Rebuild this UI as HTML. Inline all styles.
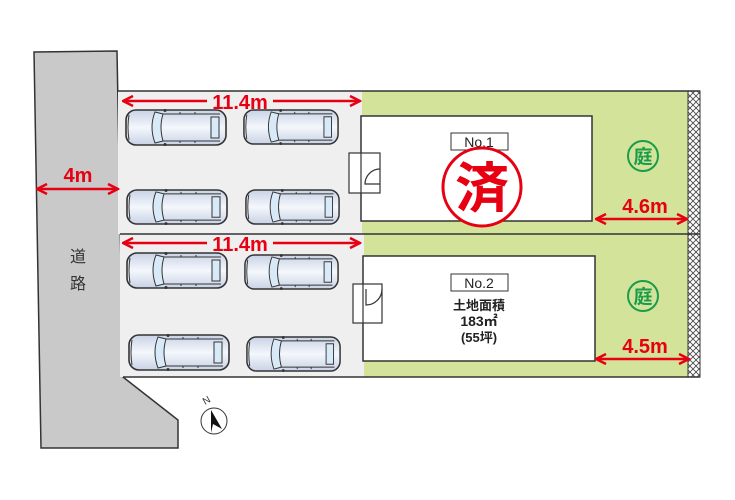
<!DOCTYPE html>
<html><head><meta charset="utf-8"><style>
html,body{margin:0;padding:0;background:#fff;width:735px;height:500px;overflow:hidden}
text{font-family:"Liberation Sans","Noto Sans CJK JP",sans-serif}
</style></head><body>
<svg width="735" height="500" viewBox="0 0 735 500" xmlns="http://www.w3.org/2000/svg">
<defs>
<linearGradient id="cg" x1="0" y1="0" x2="0" y2="1"><stop offset="0" stop-color="#c9d3e6"/><stop offset="0.5" stop-color="#f4f7fc"/><stop offset="1" stop-color="#c9d3e6"/></linearGradient>
<pattern id="hx" width="6" height="6" patternUnits="userSpaceOnUse"><rect width="6" height="6" fill="#fff"/><path d="M0 0L6 6M6 0L0 6" stroke="#444" stroke-width="0.8"/></pattern>
<symbol id="car" viewBox="0 0 102 37" preserveAspectRatio="none">
<rect x="1" y="1" width="100" height="35" rx="10" fill="url(#cg)" stroke="#333" stroke-width="1.6"/>
<path d="M4 6 Q2 18 4 31" fill="none" stroke="#333"/>
<path d="M30 3 Q24 18 30 34 L38 32 Q34 18 38 5 Z" fill="#d8eaf8" stroke="#333"/>
<rect x="86" y="8" width="8" height="21" fill="#d8eaf8" stroke="#333"/>
<path d="M38 5 H95 M38 32 H95" stroke="#333" fill="none"/>
<path d="M55 3v2M70 3v2M55 32v2M70 32v2" stroke="#333"/>
<circle cx="40" cy="1.5" r="1.5" fill="#333"/><circle cx="40" cy="35.5" r="1.5" fill="#333"/>
</symbol>
<marker id="ah" viewBox="0 0 10 10" refX="9" refY="5" markerWidth="5" markerHeight="5" orient="auto-start-reverse"><path d="M1 1 L9 5 L1 9" fill="none" stroke="#e60012" stroke-width="2"/></marker>
</defs>
<polygon points="34,52 117,51 123,377 178,420 178,448 41,448" fill="#c9c9c9" stroke="#333" stroke-width="1.5"/>
<rect x="118" y="91" width="244" height="143" fill="#efefef"/>
<rect x="120" y="234" width="244" height="143" fill="#efefef"/>
<rect x="362" y="91" width="326" height="143" fill="#d3e39a"/>
<rect x="364" y="234" width="324" height="143" fill="#d3e39a"/>
<rect x="688" y="91" width="12" height="286" fill="url(#hx)" stroke="#333"/>
<path d="M118 91 H700 M120 234 H700 M123 377 H700" stroke="#333" stroke-width="1.5"/>
<rect x="361" y="116" width="231" height="105" fill="#fff" stroke="#333" stroke-width="1.5"/>
<rect x="363" y="256" width="232" height="105" fill="#fff" stroke="#333" stroke-width="1.5"/>
<rect x="349" y="153" width="31" height="40" fill="#fff" stroke="#333" stroke-width="1.2"/>
<path d="M361 153 V193 M380 184 H365 A15 15 0 0 1 380 169" fill="none" stroke="#333" stroke-width="1.2"/>
<rect x="353" y="284" width="29" height="39" fill="#fff" stroke="#333" stroke-width="1.2"/>
<path d="M363 284 V323 M366 289 V305 A16 16 0 0 0 382 289" fill="none" stroke="#333" stroke-width="1.2"/>
<rect x="451" y="133" width="57" height="17" fill="#fff" stroke="#333"/>
<text x="479" y="147" font-size="14" text-anchor="middle" fill="#222">No.1</text>
<rect x="451" y="274" width="57" height="17" fill="#fff" stroke="#333"/>
<text x="479" y="288" font-size="14" text-anchor="middle" fill="#222">No.2</text>
<text x="479" y="310" font-size="13" font-weight="bold" text-anchor="middle" fill="#222">土地面積</text>
<text x="479" y="326" font-size="14" font-weight="bold" text-anchor="middle" fill="#222">183㎡</text>
<text x="479" y="342" font-size="13" font-weight="bold" text-anchor="middle" fill="#222">(55坪)</text>
<circle cx="482" cy="187" r="39" fill="#fff" stroke="#e60012" stroke-width="3"/>
<text x="482" y="207" font-size="54" font-weight="bold" text-anchor="middle" fill="#e60012">済</text>
<circle cx="643" cy="156" r="15" fill="none" stroke="#1a9c4a" stroke-width="2"/>
<text x="643" y="163" font-size="19" font-weight="bold" text-anchor="middle" fill="#1a9c4a">庭</text>
<circle cx="643" cy="296" r="15" fill="none" stroke="#1a9c4a" stroke-width="2"/>
<text x="643" y="303" font-size="19" font-weight="bold" text-anchor="middle" fill="#1a9c4a">庭</text>
<use href="#car" x="125" y="109" width="102" height="37"/>
<use href="#car" x="243" y="109" width="96" height="36"/>
<use href="#car" x="126" y="189" width="102" height="36"/>
<use href="#car" x="245" y="189" width="95" height="36"/>
<use href="#car" x="126" y="252" width="102" height="37"/>
<use href="#car" x="244" y="254" width="95" height="36"/>
<use href="#car" x="128" y="334" width="102" height="37"/>
<use href="#car" x="246" y="336" width="95" height="36"/>
<g stroke="#e60012" stroke-width="2.5" fill="none">
<path d="M123 101 H207 M273 101 H360" marker-start="url(#ah)" marker-end="url(#ah)"/>
<path d="M123 243 H207 M273 243 H360" marker-start="url(#ah)" marker-end="url(#ah)"/>
<path d="M37 189 H118" marker-start="url(#ah)" marker-end="url(#ah)"/>
<path d="M596 219 H687" marker-start="url(#ah)" marker-end="url(#ah)"/>
<path d="M596 359 H689" marker-start="url(#ah)" marker-end="url(#ah)"/>
</g>
<g fill="#e60012" font-weight="bold" font-size="20" text-anchor="middle">
<text x="240" y="109">11.4m</text>
<text x="240" y="251">11.4m</text>
<text x="78" y="182">4m</text>
<text x="645" y="213">4.6m</text>
<text x="645" y="353">4.5m</text>
</g>
<text x="78" y="262" font-size="16" text-anchor="middle" fill="#333">道</text>
<text x="78" y="289" font-size="16" text-anchor="middle" fill="#333">路</text>
<circle cx="214" cy="421" r="13" fill="#fff" stroke="#333"/>
<polygon points="211,410 222,429 213,424 211,433" fill="#111"/>
<text x="205" y="405" font-size="10" fill="#333" transform="rotate(-30 205 405)">N</text>
</svg>
</body></html>
